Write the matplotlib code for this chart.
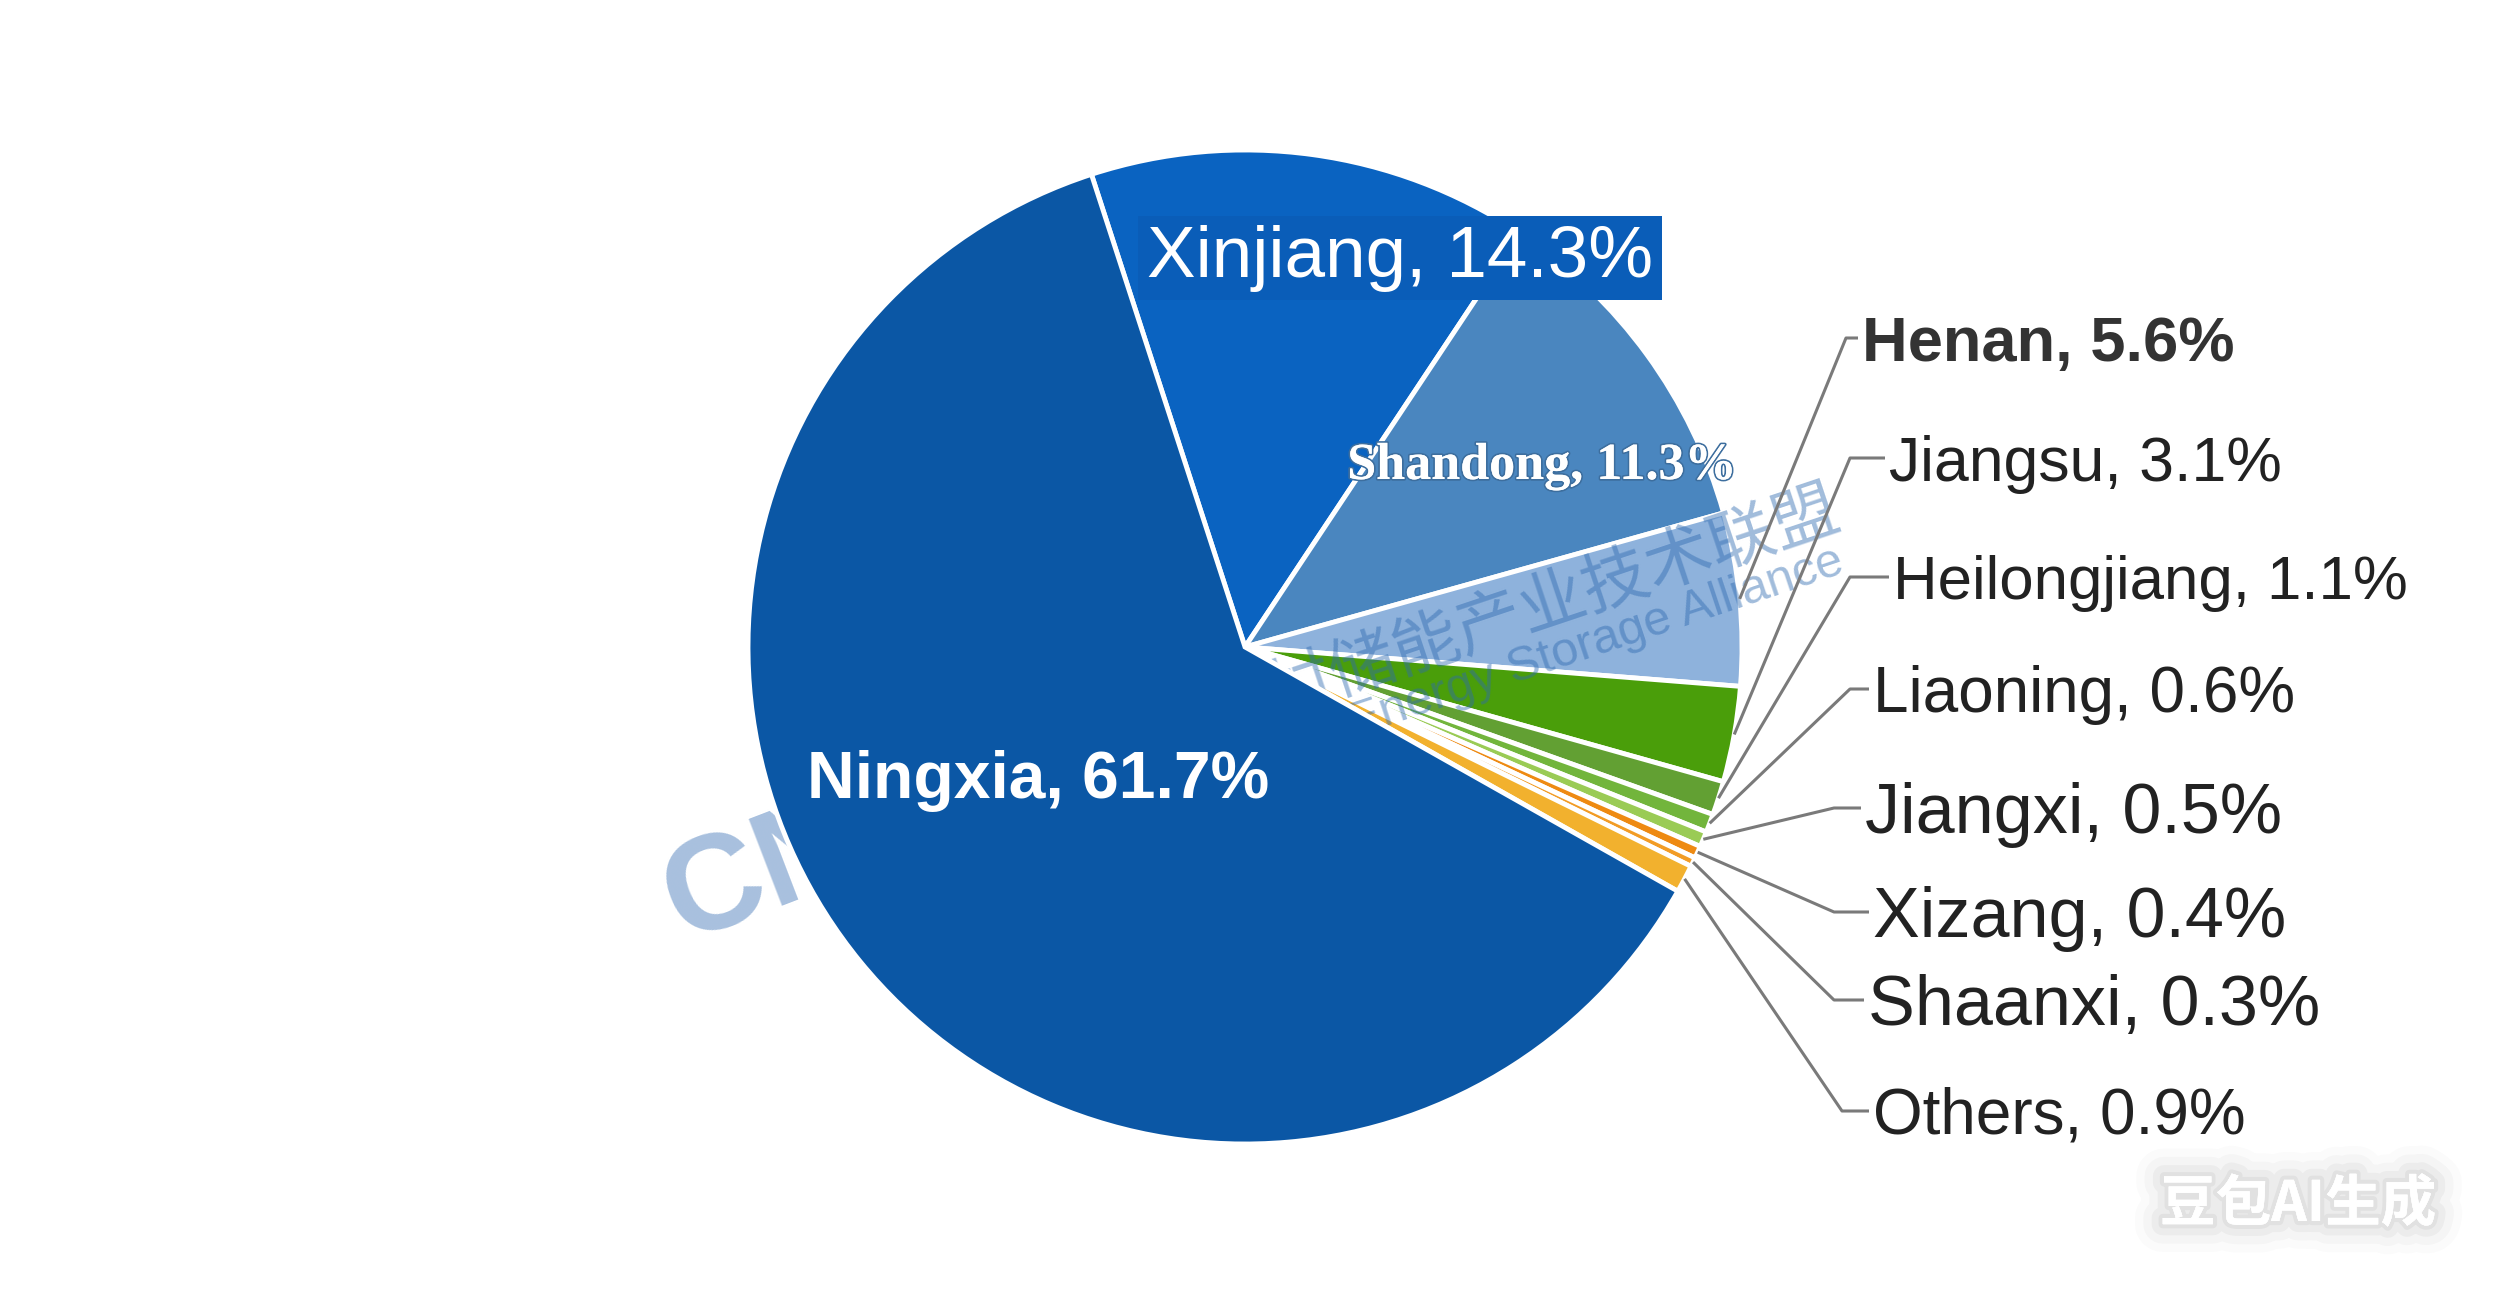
import matplotlib
matplotlib.use('Agg')
import matplotlib.pyplot as plt
import matplotlib.patheffects as pe
import numpy as np

plt.rcParams['font.family'] = ['Liberation Sans', 'Noto Sans CJK SC', 'DejaVu Sans']

# ---- data (clockwise from the top, Ningxia last) ----
categories = ['Xinjiang', 'Shandong', 'Henan', 'Jiangsu', 'Heilongjiang', 'Liaoning',
              'Jiangxi', 'Xizang', 'Shaanxi', 'Others', 'Ningxia']
shares = [14.3, 11.3, 5.6, 3.1, 1.1, 0.6, 0.5, 0.4, 0.3, 0.9, 61.7]
colors = ['#0A63C1', '#4A86BF', '#8EB2DC', '#4A9E0A', '#62A033', '#72B53C',
          '#9ACB55', '#EE8A12', '#F29C25', '#F2B12E', '#0B57A5']
labels = [f'{c}, {v}%' for c, v in zip(categories, shares)]

W, H = 2500, 1294
fig = plt.figure(figsize=(W / 100, H / 100), dpi=100)
fig.patch.set_facecolor('white')
ax = fig.add_axes([0, 0, 1, 1])

CX, CY, R = 1245, 647, 497

# watermark behind pie
ax.text(682, 352, 'CNESA', fontsize=98, fontweight='bold', color='#A8C0DE',
        rotation=21, rotation_mode='anchor', ha='left', va='baseline', zorder=0)

wedges, _ = ax.pie(shares, colors=colors, startangle=108, counterclock=False,
                   center=(CX, CY), radius=R, frame=False,
                   wedgeprops=dict(edgecolor='white', linewidth=3.5))
idx = {c: i for i, c in enumerate(categories)}
for w in wedges:
    w.set_zorder(2)
wedges[idx['Ningxia']].set_zorder(3.5)

ax.set_xlim(0, W)
ax.set_ylim(0, H)
ax.set_aspect('equal')
ax.axis('off')

# watermark over the lighter slices
ax.text(1838, 787, '中关村储能产业技术联盟', fontsize=48, color='#2E6AB0', alpha=0.45,
        family=['Noto Sans CJK SC'], rotation=18.5, rotation_mode='anchor',
        ha='right', va='center', zorder=3)
ax.text(1846, 722, 'China Energy Storage Alliance', fontsize=35, color='#2E6AB0', alpha=0.45,
        rotation=18.5, rotation_mode='anchor', ha='right', va='baseline', zorder=3)

# inner labels
ax.text(1400, 1036, labels[idx['Xinjiang']], fontsize=52.5, color='white',
        ha='center', va='center', zorder=5,
        bbox=dict(boxstyle='square,pad=0.12', facecolor='#0A5DB8', edgecolor='none'))
ax.text(1542, 828, labels[idx['Shandong']], fontsize=37.5, color='white', fontweight='bold',
        family=['Liberation Serif'], ha='center', va='center', zorder=5,
        path_effects=[pe.withStroke(linewidth=2.5, foreground='#3D6E9E'), pe.Normal()])
ax.text(1038, 513, labels[idx['Ningxia']], fontsize=47.5, color='white', fontweight='bold',
        ha='center', va='center', zorder=5)

# outer labels with leader lines: (elbow_x, elbow_y, text_x, fontsize, weight)
outer = {
    'Henan':        (1846, 956, 1862, 45.5, 'bold'),
    'Jiangsu':      (1850, 836, 1889, 45, 'normal'),
    'Heilongjiang': (1850, 717, 1893, 44.5, 'normal'),
    'Liaoning':     (1850, 605, 1873, 46, 'normal'),
    'Jiangxi':      (1834, 486, 1865, 50.5, 'normal'),
    'Xizang':       (1834, 382, 1873, 50.5, 'normal'),
    'Shaanxi':      (1834, 294, 1868, 50.5, 'normal'),
    'Others':       (1842, 183, 1873, 46, 'normal'),
}
for name, (ex, ey, tx, fs, wt) in outer.items():
    w = wedges[idx[name]]
    mid = np.deg2rad((w.theta1 + w.theta2) / 2)
    sx, sy = CX + R * np.cos(mid), CY + R * np.sin(mid)
    ax.plot([sx, ex, tx - 4], [sy, ey, ey], color='#7A7A7A', lw=2.2, zorder=4,
            solid_capstyle='butt')
    em = fs * 100 / 72
    ax.text(tx, ey - 0.36 * em, labels[idx[name]], fontsize=fs, fontweight=wt,
            color='#333333' if wt == 'bold' else '#222222',
            ha='left', va='baseline', zorder=5)

# AI-generated mark
glow = [pe.withStroke(linewidth=40, foreground=(0, 0, 0, 0.015)),
        pe.withStroke(linewidth=28, foreground=(0, 0, 0, 0.025)),
        pe.withStroke(linewidth=16, foreground=(0, 0, 0, 0.035)),
        pe.withStroke(linewidth=6, foreground=(0, 0, 0, 0.045)),
        pe.Normal()]
ax.text(2298, 89, '豆包AI生成', fontsize=40, fontweight='bold', color='white',
        family=['Noto Sans CJK SC'], ha='center', va='center', zorder=6, path_effects=glow)

fig.savefig('out.png', dpi=100, facecolor='white')
